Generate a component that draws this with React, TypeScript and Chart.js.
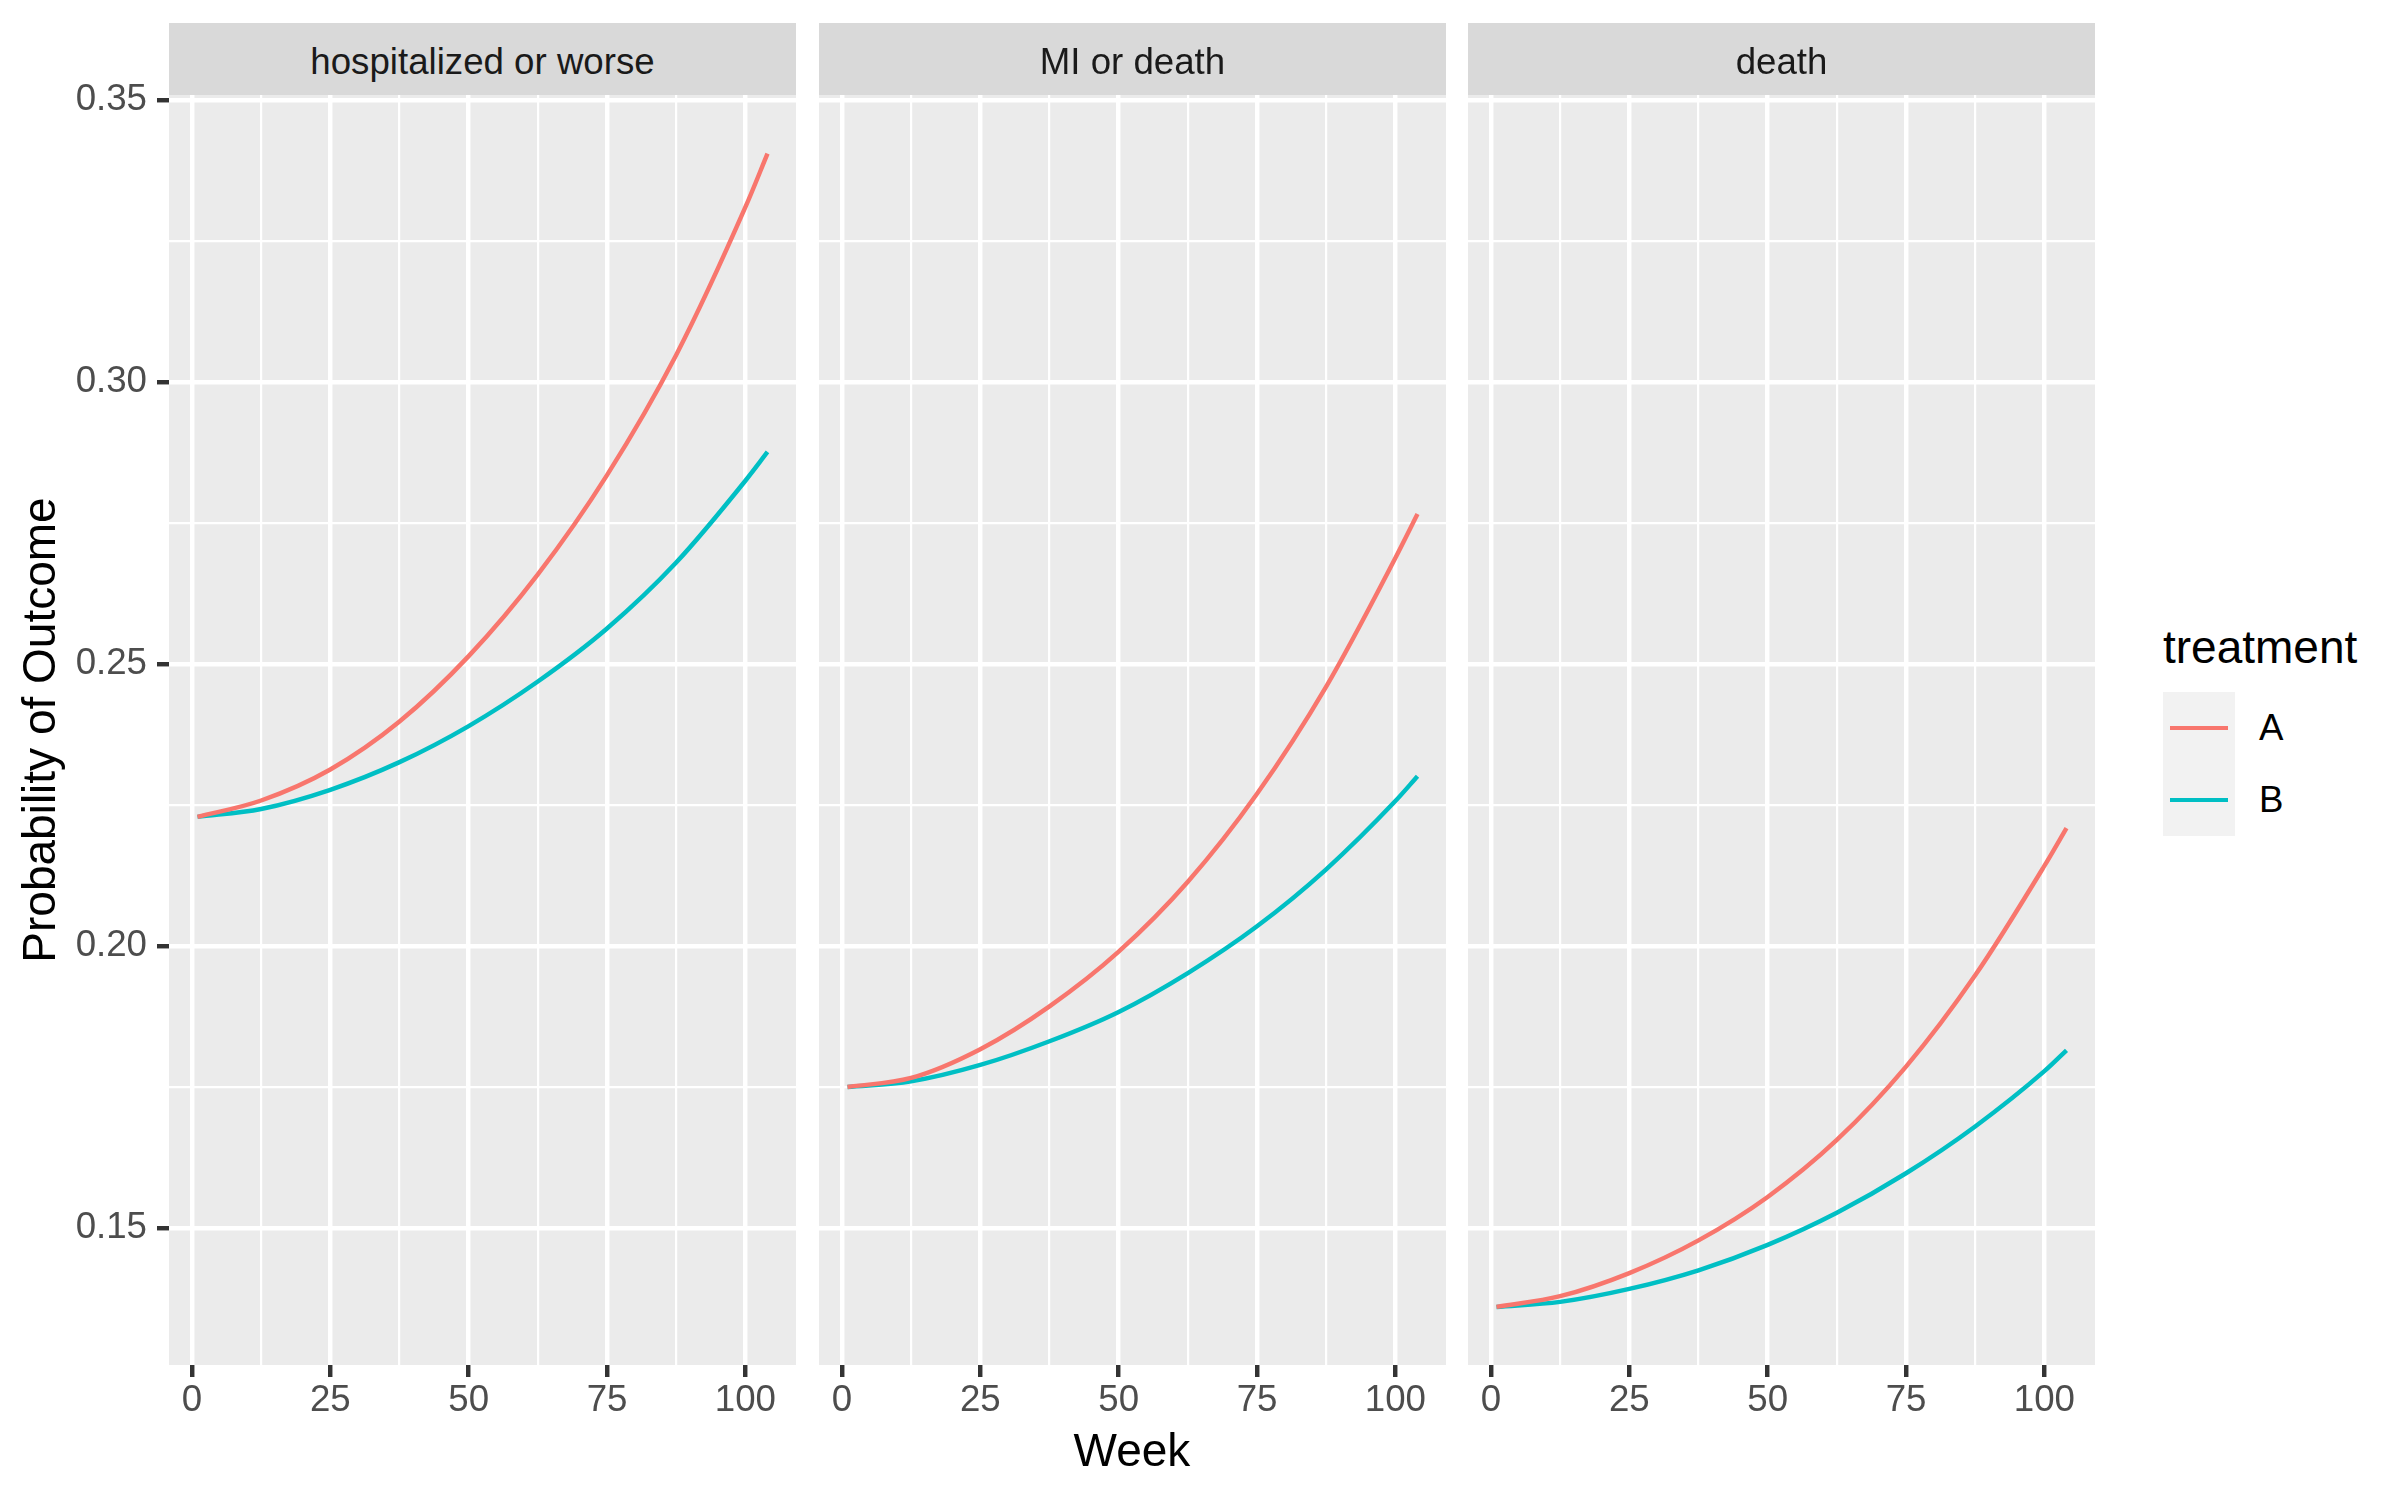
import { useEffect, useRef } from "react"
import { Chart, registerables, type Plugin, type ScriptableScaleContext } from "chart.js"

Chart.register(...registerables)

// Values (weeks 1..104)
const weeks = [1, 12.5, 25, 37.5, 50, 62.5, 75, 87.5, 100, 104]
const facetNames = ["hospitalized or worse", "MI or death", "death"]
const treatments = ["A", "B"]
const treatmentColors = ["#F8766D", "#00BFC4"]

const hospA = [0.2229, 0.2258, 0.2313, 0.2398, 0.2514, 0.2659, 0.2835, 0.3048, 0.331, 0.3405]
const hospB = [0.2229, 0.2243, 0.2277, 0.2326, 0.239, 0.2469, 0.2563, 0.268, 0.2825, 0.2876]
const miA = [0.175, 0.1766, 0.1817, 0.1893, 0.199, 0.2114, 0.227, 0.246, 0.2688, 0.2766]
const miB = [0.175, 0.176, 0.1789, 0.1831, 0.1883, 0.1952, 0.2035, 0.2136, 0.2257, 0.2301]
const deathA = [0.136, 0.1379, 0.142, 0.1478, 0.1555, 0.1656, 0.1786, 0.1948, 0.2142, 0.2209]
const deathB = [0.136, 0.1369, 0.1392, 0.1425, 0.147, 0.1527, 0.1597, 0.168, 0.1778, 0.1815]

const xTicks = [0, 12.5, 25, 37.5, 50, 62.5, 75, 87.5, 100]
const yTicks = [0.15, 0.175, 0.2, 0.225, 0.25, 0.275, 0.3, 0.325, 0.35]

const facetSeries = [
  [hospA, hospB],
  [miA, miB],
  [deathA, deathB],
]

const FONT = '"Liberation Sans", Arial, Helvetica, sans-serif'
const X_MIN = -4.15
const X_MAX = 109.15
const Y_MIN = 0.1257
const Y_MAX = 0.3509

// layout (page pixels)
const PANEL_LEFT = [169, 819, 1468]
const PANEL_W = 627
const STRIP_TOP = 23
const PANEL_TOP = 95
const PANEL_BOTTOM = 1365
const CANVAS_H = 1440
const MAJOR_LW = 4.45
const MINOR_LW = 2.2

const isMajorX = (v: number) => Math.abs(v % 25) < 1e-6
const isMajorY = (v: number) => Math.abs(Math.round(v * 20) - v * 20) < 1e-6

const panelBg: Plugin = {
  id: "panelBg",
  beforeDraw(chart) {
    const { ctx, chartArea } = chart
    ctx.save()
    ctx.fillStyle = "#ebebeb"
    ctx.fillRect(chartArea.left, chartArea.top, chartArea.right - chartArea.left, chartArea.bottom - chartArea.top)
    ctx.restore()
  },
}

function Facet({ index }: { index: number }) {
  const canvasRef = useRef<HTMLCanvasElement>(null)
  const chartRef = useRef<Chart | null>(null)
  const first = index === 0
  const left = first ? 0 : PANEL_LEFT[index]
  const width = first ? PANEL_LEFT[0] + PANEL_W : PANEL_W

  useEffect(() => {
    if (!canvasRef.current) return
    if (chartRef.current) chartRef.current.destroy()

    const series = facetSeries[index]
    chartRef.current = new Chart(canvasRef.current, {
      type: "line",
      data: {
        datasets: treatments.map((t, k) => ({
          label: t,
          data: weeks.map((w, j) => ({ x: w, y: series[k][j] })),
          borderColor: treatmentColors[k],
          borderWidth: MAJOR_LW,
          pointRadius: 0,
          cubicInterpolationMode: "monotone" as const,
          fill: false,
        })),
      },
      options: {
        animation: false,
        responsive: false,
        devicePixelRatio: 1,
        events: [],
        layout: { padding: { top: PANEL_TOP, left: 0, right: 0, bottom: 0 } },
        plugins: {
          legend: { display: false },
          tooltip: { enabled: false },
        },
        scales: {
          x: {
            type: "linear",
            min: X_MIN,
            max: X_MAX,
            afterBuildTicks: (s) => {
              s.ticks = xTicks.map((v) => ({ value: v }))
            },
            afterFit: (s) => {
              s.height = CANVAS_H - PANEL_BOTTOM
            },
            border: { display: false },
            grid: {
              color: "#ffffff",
              lineWidth: (c: ScriptableScaleContext) => (isMajorX(c.tick.value) ? MAJOR_LW : MINOR_LW),
              drawTicks: true,
              tickLength: 12,
              tickWidth: MAJOR_LW,
              tickColor: (c: ScriptableScaleContext) => (isMajorX(c.tick.value) ? "#333333" : "rgba(0,0,0,0)"),
            },
            ticks: {
              autoSkip: false,
              maxRotation: 0,
              padding: 2,
              color: "#4d4d4d",
              font: { family: FONT, size: 36.67 },
              callback: (v) => (isMajorX(Number(v)) ? String(v) : ""),
            },
          },
          y: {
            type: "linear",
            min: Y_MIN,
            max: Y_MAX,
            afterBuildTicks: (s) => {
              s.ticks = yTicks.map((v) => ({ value: v }))
            },
            afterFit: (s) => {
              s.width = first ? PANEL_LEFT[0] : 0
            },
            border: { display: false },
            grid: {
              color: "#ffffff",
              lineWidth: (c: ScriptableScaleContext) => (isMajorY(c.tick.value) ? MAJOR_LW : MINOR_LW),
              drawTicks: first,
              tickLength: 12,
              tickWidth: MAJOR_LW,
              tickColor: (c: ScriptableScaleContext) => (isMajorY(c.tick.value) ? "#333333" : "rgba(0,0,0,0)"),
            },
            ticks: {
              display: first,
              autoSkip: false,
              padding: 10,
              color: "#4d4d4d",
              font: { family: FONT, size: 36.67 },
              callback: (v) => (isMajorY(Number(v)) ? Number(v).toFixed(2) : ""),
            },
            title: {
              display: first,
              text: "Probability of Outcome",
              color: "#000000",
              font: { family: FONT, size: 46 },
              padding: { top: 15, bottom: 0 },
            },
          },
        },
      },
      plugins: [panelBg],
    })

    return () => {
      if (chartRef.current) {
        chartRef.current.destroy()
        chartRef.current = null
      }
    }
  }, [index, first])

  return (
    <canvas
      ref={canvasRef}
      width={width}
      height={CANVAS_H}
      style={{ position: "absolute", left, top: 0, width, height: CANVAS_H }}
    />
  )
}

export default function App() {
  return (
    <div
      style={{
        position: "absolute",
        left: 0,
        top: 0,
        width: 2400,
        height: 1500,
        background: "#ffffff",
        fontFamily: FONT,
        overflow: "hidden",
      }}
    >
      {facetNames.map((name, i) => (
        <Facet key={name} index={i} />
      ))}

      {facetNames.map((name, i) => (
        <div
          key={"strip-" + name}
          style={{
            position: "absolute",
            left: PANEL_LEFT[i],
            top: STRIP_TOP,
            width: PANEL_W,
            height: PANEL_TOP - STRIP_TOP,
            boxSizing: "border-box",
            paddingTop: 5,
            background: "#d9d9d9",
            color: "#1a1a1a",
            fontSize: 36.67,
            display: "flex",
            alignItems: "center",
            justifyContent: "center",
          }}
        >
          {name}
        </div>
      ))}

      <div
        style={{
          position: "absolute",
          left: PANEL_LEFT[0],
          width: PANEL_LEFT[2] + PANEL_W - PANEL_LEFT[0],
          top: 1427,
          fontSize: 46,
          lineHeight: "46px",
          textAlign: "center",
          color: "#000000",
        }}
      >
        Week
      </div>

      <div
        style={{
          position: "absolute",
          left: 2163,
          top: 624,
          fontSize: 46,
          lineHeight: "46px",
          color: "#000000",
        }}
      >
        treatment
      </div>
      {treatments.map((t, i) => (
        <div key={"key-" + t}>
          <div
            style={{
              position: "absolute",
              left: 2163,
              top: 692 + i * 72,
              width: 72,
              height: 72,
              background: "#f2f2f2",
            }}
          >
            <div
              style={{
                position: "absolute",
                left: 7,
                top: 36 - MAJOR_LW / 2,
                width: 58,
                height: MAJOR_LW,
                background: treatmentColors[i],
              }}
            />
          </div>
          <div
            style={{
              position: "absolute",
              left: 2259,
              top: 692 + i * 72,
              height: 72,
              display: "flex",
              alignItems: "center",
              fontSize: 36.67,
              color: "#000000",
            }}
          >
            {t}
          </div>
        </div>
      ))}
    </div>
  )
}
